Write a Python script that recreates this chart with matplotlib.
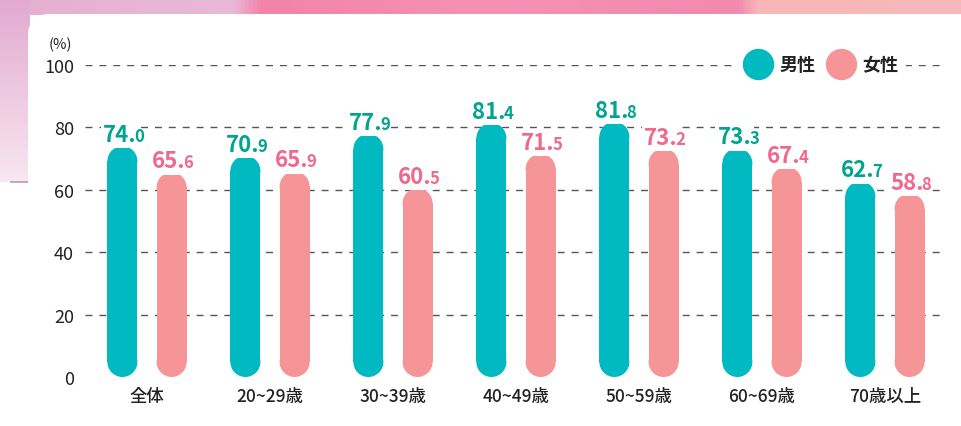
import numpy as np
import matplotlib.pyplot as plt
import matplotlib.transforms as mtransforms
from matplotlib.patches import FancyBboxPatch, Rectangle, Ellipse
from matplotlib.lines import Line2D
from matplotlib.colors import LinearSegmentedColormap

plt.rcParams['font.family'] = ['Noto Sans CJK JP', 'DejaVu Sans']

# データ
categories = ['全体', '20~29歳', '30~39歳', '40~49歳', '50~59歳', '60~69歳', '70歳以上']
male = [74.0, 70.9, 77.9, 81.4, 81.8, 73.3, 62.7]
female = [65.6, 65.9, 60.5, 71.5, 73.2, 67.4, 58.8]
yticks = [0, 20, 40, 60, 80, 100]
series_names = ['男性', '女性']

teal = '#00b9c1'
teal_txt = '#00a48f'
pink = '#f69597'
pink_txt = '#f0688c'
ink = '#222222'

W, H = 962, 427
fig = plt.figure(figsize=(W / 100, H / 100), dpi=100)

# 背景 (ピンクの帯と白いパネル)
bg = fig.add_axes([0, 0, 1, 1], zorder=0)
band_cmap = LinearSegmentedColormap.from_list('band', [
    (0.0, '#e4afd2'), (0.24, '#eab9d7'), (0.27, '#f283a9'),
    (0.5, '#f592b4'), (0.77, '#f28aae'), (0.79, '#f8b6b6'), (1.0, '#f8b8b9')])
bg.imshow(np.linspace(0, 1, 200)[None, :], cmap=band_cmap, aspect='auto',
          extent=[0, W, 16, 0], interpolation='bilinear')
strip_cmap = LinearSegmentedColormap.from_list('strip', ['#e2aad0', '#f8e6f0'])
bg.imshow(np.linspace(0, 1, 50)[:, None], cmap=strip_cmap, aspect='auto',
          extent=[0, 30, 183, 0], interpolation='bilinear')
bg.add_patch(Rectangle((10, 182), 18, 2, fc='#b8b0b4', ec='none'))
bg.add_patch(FancyBboxPatch((28, 15), W, H, boxstyle='round,pad=0,rounding_size=22',
                            fc='white', ec='none'))
bg.set_xlim(0, W)
bg.set_ylim(H, 0)
bg.axis('off')

# メインの軸
left, right, top, bottom = 85, 945, 66, 378
xmin, xmax = -0.504, 6.488
ax = fig.add_axes([left / W, 1 - bottom / H, (right - left) / W, (bottom - top) / H], zorder=1)
ax.set_facecolor('none')
ax.set_xlim(xmin, xmax)
ax.set_ylim(0, 100)
for s in ax.spines.values():
    s.set_visible(False)

for t in yticks[1:]:
    ax.axhline(t, color='#555555', lw=1.0, ls=(0, (5, 5)), zorder=1)

ax.set_yticks(yticks)
ax.set_yticklabels([str(t) for t in yticks], fontsize=13, color=ink)
x = np.arange(len(categories))
ax.set_xticks(x)
ax.set_xticklabels(categories, fontsize=12.5, color=ink, fontweight='medium')
ax.tick_params(axis='y', length=0, pad=8)
ax.tick_params(axis='x', length=0, pad=7)

off = 0.2
bw = 0.244
# 丸い端の縦方向の半径 (データ単位)
ry = (bw / 2) * ((xmax - xmin) / (right - left)) ** -1 * (100 / (bottom - top))


def rounded_bars(xs, vals, color):
    vals = np.asarray(vals)
    ax.bar(xs, vals - 2 * ry, bw, bottom=ry, color=color, zorder=2, lw=0)
    for xi, v in zip(xs, vals):
        for yc in (ry, v - ry):
            ax.add_patch(Ellipse((xi, yc), bw, 2 * ry, fc=color, ec='none', zorder=2))


rounded_bars(x - off, male, teal)
rounded_bars(x + off, female, pink)

# 数値ラベル (整数部は大きく、小数部は小さく)
tr_big = mtransforms.offset_copy(ax.transData, fig=fig, x=14, y=5, units='dots')
tr_small = mtransforms.offset_copy(ax.transData, fig=fig, x=12, y=5, units='dots')
box = dict(boxstyle='square,pad=0.1', fc='white', ec='none')


def put_labels(xs, vals, color):
    for xi, v in zip(xs, vals):
        ip, dp = f'{v:.1f}'.split('.')
        ax.text(xi, v, ip + '.', transform=tr_big, ha='right', va='baseline',
                fontsize=16, fontweight='bold', color=color, bbox=box, zorder=3)
        ax.text(xi, v, dp, transform=tr_small, ha='left', va='baseline',
                fontsize=12, fontweight='bold', color=color, zorder=3)


put_labels(x - off, male, teal_txt)
put_labels(x + off, female, pink_txt)

fig.text(60 / W, 1 - 45 / H, '(%)', ha='center', va='center', fontsize=10.5, color=ink)

handles = [Line2D([], [], ls='none', marker='o', markersize=21.6, color=teal),
           Line2D([], [], ls='none', marker='o', markersize=21.6, color=pink)]
leg = ax.legend(handles, series_names, loc='center', bbox_to_anchor=(0.857, 1.0), ncol=2,
                frameon=True, facecolor='white', edgecolor='none', framealpha=1,
                handletextpad=0.5, columnspacing=0.7, borderpad=0.4, handlelength=1.4,
                prop={'size': 13, 'weight': 'bold'})
for t in leg.get_texts():
    t.set_color(ink)
leg.set_zorder(5)

fig.savefig('out.png', dpi=100)
